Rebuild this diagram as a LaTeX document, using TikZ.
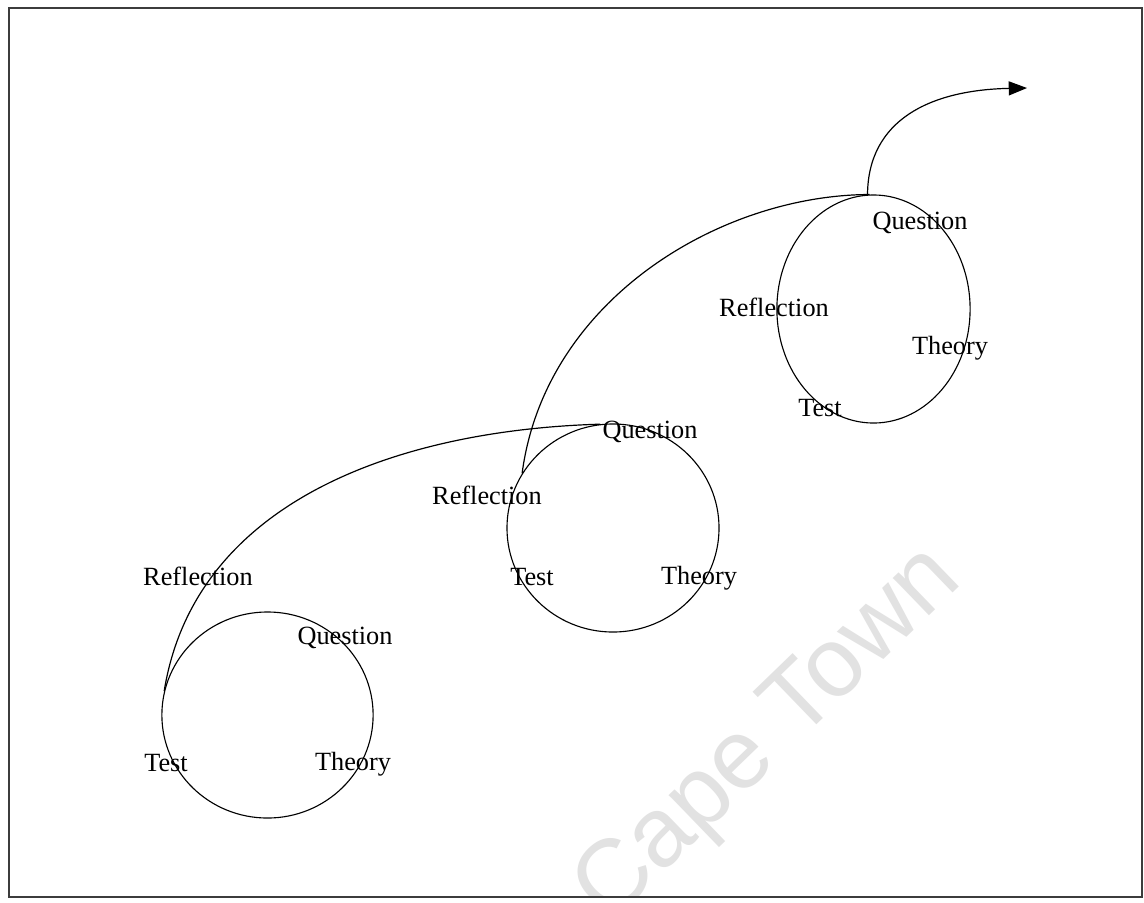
\documentclass[tikz,border=0pt]{standalone}
\usepackage{fontspec}
\setmainfont{Liberation Serif}
\newfontfamily\wmfont{Liberation Sans}
\usetikzlibrary{shapes.geometric,arrows.meta}
\definecolor{framegray}{RGB}{60,60,60}
\definecolor{wmgray}{RGB}{226,226,226}
\tikzset{
  cycle/.style={draw, ellipse, inner sep=0pt, line width=0.8pt},
  lbl/.style={inner sep=0pt, font=\fontsize{18.7}{22}\selectfont},
  link/.style={line width=0.85pt},
}
\begin{document}
\begin{tikzpicture}[x=0.025cm, y=-0.025cm]
  \useasboundingbox (0,0) rectangle (1144,902);
  \fill[white] (0,0) rectangle (1144,902);

  % light background lettering, kept inside the frame
  \begin{scope}
    \clip (9,8) rectangle (1142,897);
    \node[rotate=44, text=wmgray, inner sep=0pt,
          font=\wmfont\fontsize{70}{72}\selectfont] (wm) at (770,736) {Cape Town};
  \end{scope}

  % frame
  \draw[framegray, line width=1.5pt] (9,8) rectangle (1142,897);

  % the three cycles
  \node[cycle, minimum width=5.28cm, minimum height=5.15cm] (c1) at (267.5,715) {};
  \node[cycle, minimum width=5.3cm,  minimum height=5.2cm]  (c2) at (613,528) {};
  \node[cycle, minimum width=4.83cm, minimum height=5.7cm]  (c3) at (873.5,309) {};

  % labels of the first cycle
  \node[lbl] (r1)  at (198,576) {Reflection};
  \node[lbl] (q1)  at (345,638) {Question};
  \node[lbl] (t1)  at (166,763) {Test};
  \node[lbl] (th1) at (353,764) {Theory};

  % labels of the second cycle
  \node[lbl] (q2)  at (650,432) {Question};
  \node[lbl] (r2)  at (487,495) {Reflection};
  \node[lbl] (t2)  at (532,577) {Test};
  \node[lbl] (th2) at (699,578) {Theory};

  % labels of the third cycle
  \node[lbl] (q3)  at (920,223) {Question};
  \node[lbl] (r3)  at (774,307) {Reflection};
  \node[lbl] (th3) at (950,348) {Theory};
  \node[lbl] (t3)  at (820,408) {Test};

  % spiral connecting the cycles
  \coordinate (tip) at (1027,88);
  \draw[link] (c1.167) .. controls (195,500) and (400,430) .. (c2.97);
  \draw[link] (c2.149) .. controls (545,300) and (720,195) .. (c3.92);
  \draw[link, -{Triangle[length=13pt, width=10pt]}]
    (c3.93) .. controls (868,120) and (930,90) .. (tip);
\end{tikzpicture}
\end{document}
